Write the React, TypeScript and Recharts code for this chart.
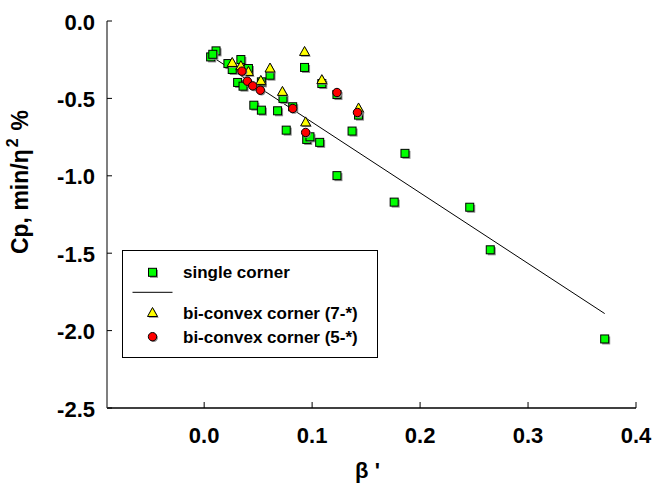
import React from 'react';
import { ScatterChart, Scatter, XAxis, YAxis, Legend } from 'recharts';

// single corner
const singleX = [0.006, 0.011, 0.008, 0.022, 0.034, 0.026, 0.041, 0.031, 0.036, 0.053, 0.061, 0.046, 0.053, 0.068, 0.073, 0.082, 0.076, 0.093, 0.109, 0.095, 0.098, 0.107, 0.123, 0.137, 0.143, 0.186, 0.123, 0.176, 0.246, 0.265, 0.371];
const singleY = [-0.232, -0.193, -0.215, -0.275, -0.249, -0.313, -0.307, -0.397, -0.421, -0.393, -0.35, -0.544, -0.576, -0.58, -0.5, -0.554, -0.705, -0.3, -0.404, -0.765, -0.748, -0.784, -0.475, -0.711, -0.608, -0.855, -0.999, -1.17, -1.203, -1.478, -2.054];
// bi-convex corner (7-*)
const bi7X = [0.026, 0.034, 0.041, 0.0525, 0.061, 0.0725, 0.093, 0.109, 0.094, 0.143];
const bi7Y = [-0.271, -0.292, -0.329, -0.387, -0.307, -0.458, -0.2, -0.382, -0.655, -0.565];
// bi-convex corner (5-*)
const bi5X = [0.035, 0.04, 0.045, 0.052, 0.082, 0.094, 0.123, 0.142];
const bi5Y = [-0.324, -0.389, -0.419, -0.447, -0.565, -0.72, -0.462, -0.591];
// regression line
const fitX = [0.006, 0.371];
const fitY = [-0.225, -1.89];

const xTicks = [0.0, 0.1, 0.2, 0.3, 0.4];
const yTicks = [0.0, -0.5, -1.0, -1.5, -2.0, -2.5];

const seriesNames = ['single corner', 'bi-convex corner (7-*)', 'bi-convex corner (5-*)'];

const zip = (xs: number[], ys: number[]) => xs.map((x, i) => ({ x, y: ys[i] }));
const singleData = zip(singleX, singleY);
const bi7Data = zip(bi7X, bi7Y);
const bi5Data = zip(bi5X, bi5Y);
const fitData = zip(fitX, fitY);

const FONT = '"Liberation Sans", Arial, Helvetica, sans-serif';

const SquareMark = ({ cx, cy }: any) => {
  const s = 8;
  return (
    <g>
      <rect x={cx - s / 2 + 1.5} y={cy - s / 2 + 1.5} width={s} height={s} fill="#8a8a8a" />
      <rect x={cx - s / 2} y={cy - s / 2} width={s} height={s} fill="#00ff00" stroke="#000" strokeWidth={1} />
    </g>
  );
};

const triPts = (cx: number, cy: number) => `${cx},${cy - 5.5} ${cx - 5},${cy + 3.5} ${cx + 5},${cy + 3.5}`;
const TriMark = ({ cx, cy }: any) => (
  <g>
    <polygon points={triPts(cx + 1.2, cy + 1.2)} fill="#8a8a8a" />
    <polygon points={triPts(cx, cy)} fill="#ffff00" stroke="#000" strokeWidth={1} />
  </g>
);

const CircleMark = ({ cx, cy }: any) => (
  <g>
    <circle cx={cx + 1.2} cy={cy + 1.2} r={4.2} fill="#8a8a8a" />
    <circle cx={cx} cy={cy} r={4.2} fill="#ff0000" stroke="#000" strokeWidth={1} />
  </g>
);

const NoMark = () => <g />;

const XTick = ({ x, y, payload }: any) => (
  <g>
    <line x1={x} x2={x} y1={y} y2={y - 6} stroke="#000" strokeWidth={1} />
    <text x={x} y={y + 34.5} textAnchor="middle" fontSize={22} fontWeight="bold" fontFamily={FONT} fill="#000">
      {Number(payload.value).toFixed(1)}
    </text>
  </g>
);

const YTick = ({ x, y, payload }: any) => (
  <g>
    <line x1={x} x2={x + 5} y1={y} y2={y} stroke="#000" strokeWidth={1} />
    <text x={x - 12} y={y + 8.5} textAnchor="end" fontSize={22} fontWeight="bold" fontFamily={FONT} fill="#000">
      {Number(payload.value).toFixed(1)}
    </text>
  </g>
);

const YTitle = ({ viewBox }: any) => {
  const cx = 28;
  const cy = viewBox ? viewBox.y + 161 : 182;
  return (
    <text transform={`translate(${cx},${cy}) rotate(-90)`} textAnchor="middle" fontSize={23} fontWeight="bold" fontFamily={FONT} fill="#000">
      Cp, min/η<tspan dy={-10} dx={2} fontSize={16}>2</tspan>
      <tspan dy={10} dx={8}>%</tspan>
    </text>
  );
};

const XTitle = ({ viewBox }: any) => {
  const cx = viewBox ? viewBox.x + viewBox.width / 2 - 4 : 368;
  return (
    <text x={cx} y={478} textAnchor="middle" fontSize={22} fontWeight="bold" fontFamily={FONT} fill="#000">
      β '
    </text>
  );
};

const LegendBox = () => {
  const tx = 61;
  const mx = 30.5;
  const textProps = { fontSize: 17, fontWeight: 'bold' as const, fontFamily: FONT, fill: '#000' };
  return (
    <svg width={256} height={108} style={{ display: 'block' }}>
      <rect x={0.5} y={0.5} width={255} height={107} fill="#fff" stroke="#000" strokeWidth={1} />
      <SquareMark cx={mx} cy={22.3} />
      <text x={tx} y={28.3} {...textProps}>{seriesNames[0]}</text>
      <line x1={10.5} x2={50.5} y1={42.3} y2={42.3} stroke="#000" strokeWidth={1} />
      <TriMark cx={mx} cy={63} />
      <text x={tx} y={68.7} {...textProps}>{seriesNames[1]}</text>
      <CircleMark cx={mx} cy={86.7} />
      <text x={tx} y={92.7} {...textProps}>{seriesNames[2]}</text>
    </svg>
  );
};

export default function App() {
  return (
    <div style={{ position: 'absolute', left: 0, top: 0, width: 663, height: 491, background: '#fff' }}>
      <ScatterChart width={663} height={491} margin={{ top: 21, right: 27, bottom: 0, left: 0 }}>
        <XAxis
          xAxisId="b"
          type="number"
          dataKey="x"
          domain={[-0.09, 0.4]}
          ticks={xTicks}
          allowDataOverflow
          height={83}
          tickSize={0}
          tickMargin={0}
          tickLine={false}
          tick={<XTick />}
          axisLine={{ stroke: '#000', strokeWidth: 1.3 }}
          label={<XTitle />}
        />
        <XAxis
          xAxisId="t"
          orientation="top"
          type="number"
          dataKey="x"
          domain={[-0.09, 0.4]}
          height={0}
          tick={false}
          tickLine={false}
          axisLine={{ stroke: '#000', strokeWidth: 1.3 }}
        />
        <YAxis
          yAxisId="l"
          type="number"
          dataKey="y"
          domain={[-2.5, 0]}
          ticks={yTicks}
          allowDataOverflow
          width={107}
          tickSize={0}
          tickMargin={0}
          tickLine={false}
          tick={<YTick />}
          axisLine={{ stroke: '#555', strokeWidth: 1.5 }}
          label={<YTitle />}
        />
        <YAxis
          yAxisId="r"
          orientation="right"
          type="number"
          dataKey="y"
          domain={[-2.5, 0]}
          width={0}
          tick={false}
          tickLine={false}
          axisLine={{ stroke: '#000', strokeWidth: 1.3 }}
        />
        <Legend
          layout="vertical"
          align="center"
          verticalAlign="middle"
          wrapperStyle={{ left: 122, top: 250, width: 256, height: 108 }}
          content={<LegendBox />}
        />
        <Scatter xAxisId="b" yAxisId="l" name="fit" data={fitData} line={{ stroke: '#000', strokeWidth: 1 }} shape={<NoMark />} legendType="none" isAnimationActive={false} />
        <Scatter xAxisId="b" yAxisId="l" name={seriesNames[0]} data={singleData} shape={<SquareMark />} isAnimationActive={false} />
        <Scatter xAxisId="b" yAxisId="l" name={seriesNames[1]} data={bi7Data} shape={<TriMark />} isAnimationActive={false} />
        <Scatter xAxisId="b" yAxisId="l" name={seriesNames[2]} data={bi5Data} shape={<CircleMark />} isAnimationActive={false} />
      </ScatterChart>
    </div>
  );
}
